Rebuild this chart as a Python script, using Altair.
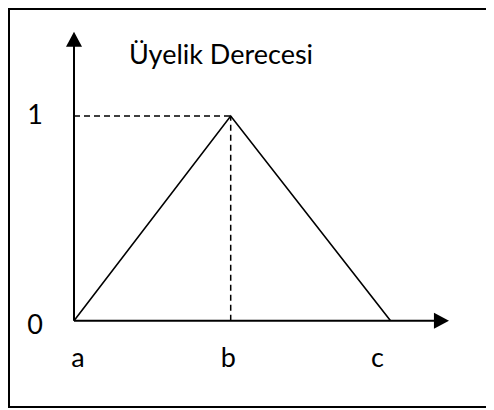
import altair as alt
import pandas as pd

# ---- data ----
x_labels = ["a", "b", "c"]
x_values = [0.0, 1.0, 2.02]
membership = [0.0, 1.0, 0.0]
y_labels = ["0", "1"]
y_values = [0.0, 1.0]
title_text = "Üyelik Derecesi"
x_axis_end = 2.345   # x-axis arrow (data units)
y_axis_end = 1.375   # y-axis arrow (data units)

FONT = "Lato"
FS = 27

xs = alt.Scale(domain=[0, 1], range=[66, 222.7], nice=False, zero=False)
ys = alt.Scale(domain=[0, 1], range=[312.7, 108], nice=False, zero=False)

tri = pd.DataFrame({"x": x_values, "y": membership, "o": list(range(len(x_values)))})
b = x_values[1]
dash = pd.DataFrame({"x": [0.0, b], "x2": [b, b], "y": [1.0, 0.0], "y2": [1.0, 1.0]})
axes = pd.DataFrame({"x": [0.0, 0.0], "x2": [x_axis_end, 0.0], "y": [0.0, 0.0], "y2": [0.0, y_axis_end]})
arrows = pd.DataFrame({
    "x": [0.0, x_axis_end], "y": [y_axis_end, 0.0],
    "shape": ["M0,-0.94L1,0.94L-1,0.94Z", "M0.94,0L-0.94,-1L-0.94,1Z"],
})
xl = pd.DataFrame({"x": x_values, "y": [0.0] * 3, "t": x_labels, "dx": [4, -2.5, -13]})
yl = pd.DataFrame({"x": [0.0, 0.0], "y": y_values, "t": y_labels, "dy": [5, 0]})

X = lambda f="x": alt.X(f"{f}:Q", scale=xs, axis=None)
Y = lambda f="y": alt.Y(f"{f}:Q", scale=ys, axis=None)

W, H = 478, 400

frame = pd.DataFrame({"k": [0]})
border_left = alt.Chart(frame).mark_rule(color="black", strokeWidth=2).encode(
    x=alt.value(1), y=alt.value(0), y2=alt.value(H))
border_top = alt.Chart(frame).mark_rule(color="black", strokeWidth=2).encode(
    x=alt.value(0), x2=alt.value(W + 30), y=alt.value(1))
border_bottom = alt.Chart(frame).mark_rule(color="black", strokeWidth=2).encode(
    x=alt.value(0), x2=alt.value(W + 30), y=alt.value(H - 1))

axis_lines = alt.Chart(axes).mark_rule(color="black", strokeWidth=2).encode(
    x=X(), x2="x2:Q", y=Y(), y2="y2:Q")

arrow_heads = alt.Chart(arrows).mark_point(
    filled=True, color="black", opacity=1, size=256, strokeWidth=0
).encode(x=X(), y=Y(), shape=alt.Shape("shape:N", scale=None))

dashed = alt.Chart(dash).mark_rule(color="black", strokeWidth=1.5, strokeDash=[6, 4]).encode(
    x=X(), x2="x2:Q", y=Y(), y2="y2:Q")

triangle = alt.Chart(tri).mark_line(color="black", strokeWidth=1.6).encode(
    x=X(), y=Y(), order="o:Q")

xlab_layers = []
for _, r in xl.iterrows():
    xlab_layers.append(
        alt.Chart(pd.DataFrame([r])).mark_text(
            font=FONT, fontSize=FS, color="black", align="center",
            baseline="alphabetic", dx=float(r["dx"]), dy=46
        ).encode(x=X(), y=Y(), text="t:N")
    )
ylab_layers = []
for _, r in yl.iterrows():
    ylab_layers.append(
        alt.Chart(pd.DataFrame([r])).mark_text(
            font=FONT, fontSize=FS, color="black", align="center",
            baseline="middle", dx=-39, dy=float(r["dy"])
        ).encode(x=X(), y=Y(), text="t:N")
    )

title = alt.Chart(pd.DataFrame({"t": [title_text]})).mark_text(
    font=FONT, fontSize=FS, color="black", align="center", baseline="alphabetic"
).encode(x=alt.value(213), y=alt.value(56), text="t:N")

chart = alt.layer(
    border_left, border_top, border_bottom, dashed, triangle, axis_lines, arrow_heads,
    title, *xlab_layers, *ylab_layers
).properties(
    width=W, height=H, padding=0, autosize=alt.AutoSizeParams(type="none"),
    background="white"
).configure_view(strokeWidth=0, stroke="transparent", fill="white")

chart.save("out.html", embed_options={"renderer": "svg", "actions": False})
